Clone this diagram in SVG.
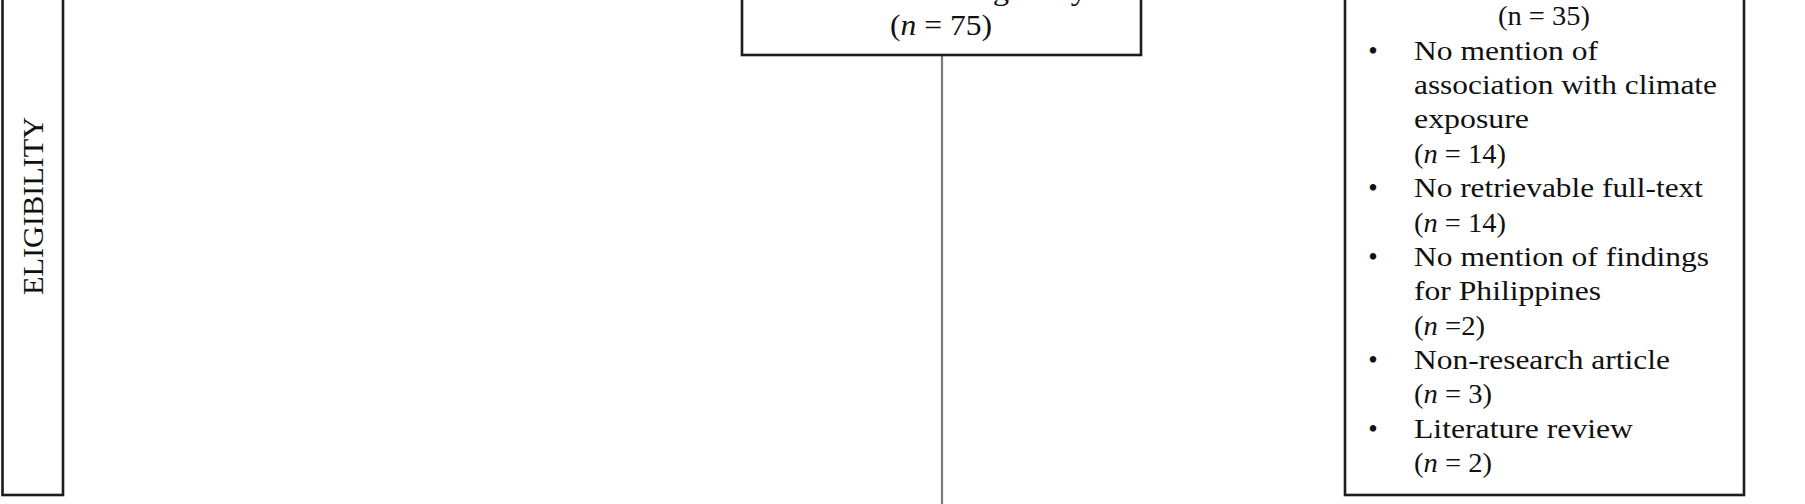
<svg xmlns="http://www.w3.org/2000/svg" width="1805" height="504" viewBox="0 0 1805 504">
<style>
.box{fill:#ffffff;stroke:#1c1c1c;stroke-width:2.6}
.t{font-family:"Liberation Serif","Times New Roman",serif;font-size:27px;fill:#111111}
.c{font-family:"Liberation Serif","Times New Roman",serif;font-size:29px;fill:#111111}
.lab{font-family:"Liberation Serif","Times New Roman",serif;font-size:30px;fill:#111111}
.i{font-style:italic}
.conn{stroke:#7a7a7a;stroke-width:2.2;fill:none}
</style>
<rect width="1805" height="504" fill="#ffffff"/>
<g id="connectors">
<line class="conn" x1="942" y1="55" x2="942" y2="510"/>
</g>
<g id="eligibility-label">
<rect class="box" x="2.5" y="-10" width="60.5" height="505"/>
<text class="lab" transform="translate(43,206) rotate(-90)" text-anchor="middle" textLength="178" lengthAdjust="spacingAndGlyphs">ELIGIBILITY</text>
</g>
<g id="assessed">
<rect class="box" x="742" y="-10" width="399" height="65"/>
<text class="c" x="795" y="0" textLength="292" lengthAdjust="spacingAndGlyphs">assessed for eligibility</text>
<text class="c" x="890" y="35" textLength="102" lengthAdjust="spacingAndGlyphs">(<tspan class="i">n</tspan> = 75)</text>
</g>
<g id="excluded">
<rect class="box" x="1345" y="-10" width="399" height="505"/>
<text class="t" x="1498" y="25" textLength="92" lengthAdjust="spacingAndGlyphs">(n = 35)</text>
<text class="t" x="1373" y="59.5" text-anchor="middle">•</text>
<text class="t" x="1414" y="59.5" textLength="184" lengthAdjust="spacingAndGlyphs">No mention of</text>
<text class="t" x="1414" y="93.5" textLength="303" lengthAdjust="spacingAndGlyphs">association with climate</text>
<text class="t" x="1414" y="128" textLength="115" lengthAdjust="spacingAndGlyphs">exposure</text>
<text class="t" x="1414" y="162.5" textLength="92" lengthAdjust="spacingAndGlyphs">(<tspan class="i">n</tspan> = 14)</text>
<text class="t" x="1373" y="197" text-anchor="middle">•</text>
<text class="t" x="1414" y="197" textLength="289" lengthAdjust="spacingAndGlyphs">No retrievable full-text</text>
<text class="t" x="1414" y="231.5" textLength="92" lengthAdjust="spacingAndGlyphs">(<tspan class="i">n</tspan> = 14)</text>
<text class="t" x="1373" y="266" text-anchor="middle">•</text>
<text class="t" x="1414" y="266" textLength="295" lengthAdjust="spacingAndGlyphs">No mention of findings</text>
<text class="t" x="1414" y="300" textLength="187" lengthAdjust="spacingAndGlyphs">for Philippines</text>
<text class="t" x="1414" y="334.5" textLength="71" lengthAdjust="spacingAndGlyphs">(<tspan class="i">n</tspan> =2)</text>
<text class="t" x="1373" y="369" text-anchor="middle">•</text>
<text class="t" x="1414" y="369" textLength="256" lengthAdjust="spacingAndGlyphs">Non-research article</text>
<text class="t" x="1414" y="403" textLength="78" lengthAdjust="spacingAndGlyphs">(<tspan class="i">n</tspan> = 3)</text>
<text class="t" x="1373" y="437.5" text-anchor="middle">•</text>
<text class="t" x="1414" y="437.5" textLength="219" lengthAdjust="spacingAndGlyphs">Literature review</text>
<text class="t" x="1414" y="472" textLength="78" lengthAdjust="spacingAndGlyphs">(<tspan class="i">n</tspan> = 2)</text>
</g>
</svg>
